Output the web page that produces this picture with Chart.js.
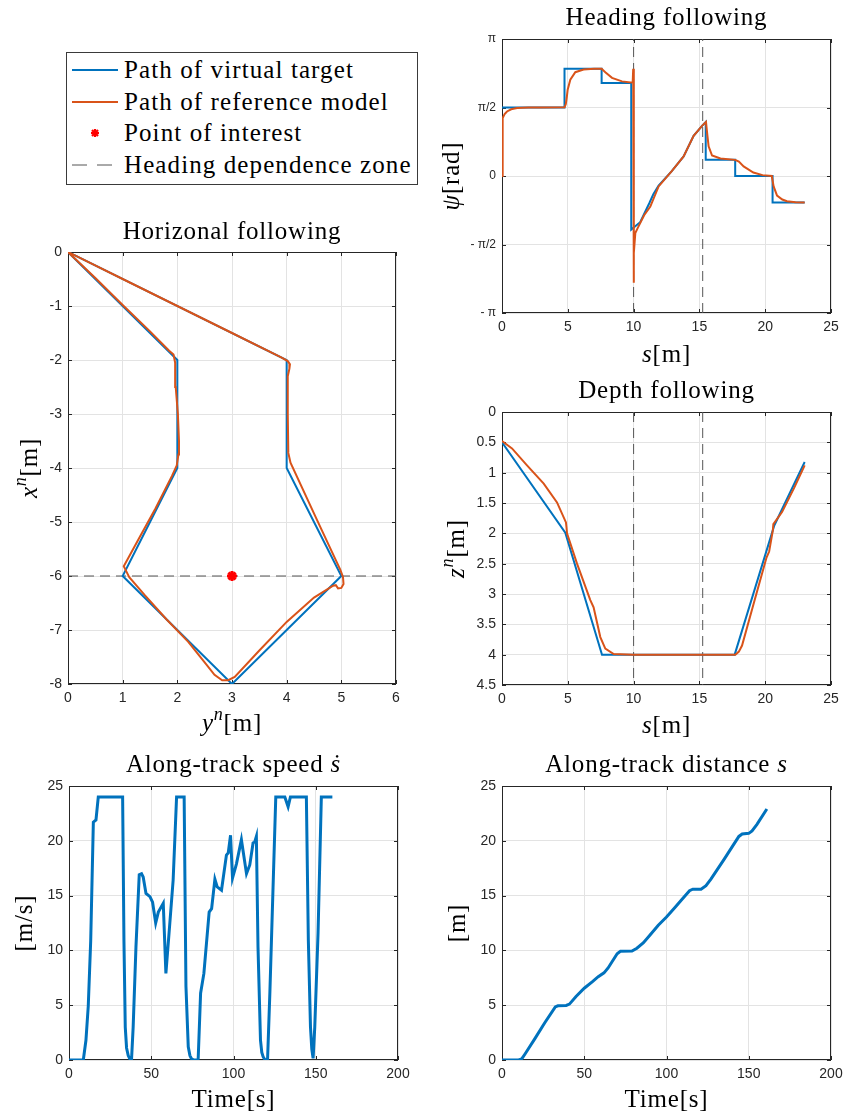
<!DOCTYPE html>
<html>
<head>
<meta charset="utf-8">
<script src="https://cdn.jsdelivr.net/npm/chart.js@4"></script>
<style>
  body { margin: 0; background: #fff; }
  #page { position: relative; width: 845px; height: 1119px; overflow: hidden; }
  canvas { position: absolute; }
  #legend {
    position: absolute; left: 66px; top: 52px; width: 350px; height: 131px;
    border: 1px solid #3a3a3a; background: #fff;
    font-family: "Liberation Serif", "DejaVu Serif", serif; font-size: 25px; letter-spacing: 1.1px; color: #000;
  }
  #legend .row { position: absolute; left: 57px; height: 32px; line-height: 32px; white-space: nowrap; }
  #legend .sw { position: absolute; left: 5px; width: 46px; height: 32px; }
</style>
</head>
<body>
<div id="page">
  <div id="legend">
    <svg class="sw" style="top:1px"><line x1="0" y1="16" x2="46" y2="16" stroke="#0072BD" stroke-width="2"/></svg>
    <div class="row" style="top:1px">Path of virtual target</div>
    <svg class="sw" style="top:33px"><line x1="0" y1="16" x2="46" y2="16" stroke="#D95319" stroke-width="2"/></svg>
    <div class="row" style="top:33px">Path of reference model</div>
    <svg class="sw" style="top:64px">
      <g stroke="#ff0000" stroke-width="2.2">
        <line x1="19" y1="16" x2="27" y2="16"/><line x1="23" y1="12" x2="23" y2="20"/>
        <line x1="20" y1="13" x2="26" y2="19"/><line x1="26" y1="13" x2="20" y2="19"/>
      </g>
    </svg>
    <div class="row" style="top:64px">Point of interest</div>
    <svg class="sw" style="top:96px"><line x1="0" y1="16" x2="42" y2="16" stroke="#555" stroke-width="1" stroke-dasharray="15,10"/></svg>
    <div class="row" style="top:96px">Heading dependence zone</div>
  </div>
  <canvas id="horizChart" width="420" height="530" style="left:0;top:210px"></canvas>
  <canvas id="headingChart" width="425" height="370" style="left:420px;top:0"></canvas>
  <canvas id="depthChart" width="425" height="370" style="left:420px;top:370px"></canvas>
  <canvas id="speedChart" width="420" height="379" style="left:0;top:740px"></canvas>
  <canvas id="distChart" width="425" height="379" style="left:420px;top:740px"></canvas>
</div>
<script>
// horizontal path (y^n, x^n)
const targetY = [0, 4, 4, 5, 3, 1, 2, 2, 0];
const targetX = [0, -2, -4, -6, -8, -6, -4, -2, 0];
const refY = [0, 1, 2, 3, 3.9, 4.02, 4.06, 4.05, 4.02, 4.02, 4.03, 4.07, 4.55, 4.98, 5.03, 5.04, 5.0, 4.94, 4.9, 4.85, 4.5, 4.0, 3.5, 3.05, 2.93, 2.82, 2.68, 2.5, 2.2, 1.8, 1.4, 1.12, 1.06, 1.02, 1.3, 1.6, 1.9, 1.99, 2.02, 2.03, 2.01, 1.97, 1.96, 1.93, 1.85, 1.5, 1.0, 0.5, 0];
const refX = [0, -0.5, -1.0, -1.5, -1.95, -2.02, -2.08, -2.16, -2.3, -3.0, -3.72, -3.9, -4.95, -5.88, -6.02, -6.15, -6.22, -6.23, -6.17, -6.18, -6.4, -6.85, -7.38, -7.87, -7.93, -7.93, -7.83, -7.6, -7.22, -6.8, -6.35, -6.02, -5.9, -5.82, -5.3, -4.75, -4.15, -3.95, -3.75, -3.5, -3.0, -2.5, -2.05, -1.9, -1.83, -1.47, -0.98, -0.48, 0];
const poiY = [3];
const poiX = [-6];
const zoneX = -6;
const zoneS = [10, 15.25];

// heading vs s
const headTargetS = [0, 4.75, 4.75, 7.57, 7.57, 9.82, 9.82, 10.5, 11.2, 11.5, 11.9, 12.9, 13.8, 14.56, 15.2, 15.48, 15.48, 17.72, 17.72, 20.56, 20.56, 23.0];
const headTargetPsi = [1.571, 1.571, 2.46, 2.46, 2.13, 2.13, -1.23, -1.06, -0.62, -0.42, -0.22, 0.11, 0.45, 0.92, 1.15, 1.24, 0.37, 0.37, 0, 0, -0.605, -0.605];
const headRefS = [0, 0.03, 0.07, 0.2, 0.38, 0.7, 1.14, 2, 3, 4.75, 4.85, 4.92, 4.99, 5.19, 5.57, 6.2, 7.0, 7.57, 7.85, 8.36, 9.12, 9.93, 9.97, 10.0, 10.03, 10.13, 10.3, 10.5, 10.8, 11.27, 11.9, 12.9, 13.8, 14.56, 15.2, 15.5, 15.6, 15.7, 15.96, 16.6, 17.72, 18.0, 18.36, 19.1, 19.8, 20.5, 20.64, 20.9, 21.3, 21.65, 22.3, 23.0];
const headRefPsi = [0, 0.9, 1.33, 1.42, 1.48, 1.53, 1.56, 1.57, 1.571, 1.575, 1.65, 1.8, 1.98, 2.21, 2.38, 2.44, 2.46, 2.46, 2.38, 2.25, 2.17, 2.14, 2.46, -2.45, -1.77, -1.31, -1.2, -1.08, -0.9, -0.7, -0.24, 0.11, 0.45, 0.92, 1.15, 1.24, 0.95, 0.68, 0.47, 0.4, 0.37, 0.33, 0.22, 0.08, 0.02, 0.0, -0.24, -0.45, -0.54, -0.58, -0.6, -0.605];
const psiTickValues = [-Math.PI, -Math.PI / 2, 0, Math.PI / 2, Math.PI];
const psiTickLabels = ["- π", "- π/2", "0", "π/2", "π"];

// depth vs s
const depthTargetS = [0, 4.81, 7.6, 17.68, 20.69, 23.0];
const depthTargetZ = [0.5, 1.99, 4.0, 4.0, 1.87, 0.825];
const depthRefS = [0, 0.76, 1.9, 3.17, 4.18, 4.86, 4.9, 4.94, 5.7, 6.71, 6.96, 7.47, 7.85, 8.49, 10, 17.73, 18.0, 18.24, 19.2, 20.1, 20.3, 20.58, 20.62, 21.28, 22.2, 23.0];
const depthRefZ = [0.48, 0.6, 0.88, 1.18, 1.49, 1.82, 1.9, 2.0, 2.5, 3.1, 3.22, 3.71, 3.9, 3.99, 4.0, 4.0, 3.95, 3.85, 3.1, 2.4, 2.3, 1.95, 1.85, 1.65, 1.25, 0.88];

// along-track speed vs time
const speedT = [0, 8.7, 10.3, 11.7, 13.2, 14.8, 16.4, 17.8, 32.6, 33.4, 34.2, 35, 36, 37, 38, 39, 40.7, 42.7, 44.1, 45.1, 46.8, 49.2, 50.8, 52.7, 54.3, 57.3, 58.9, 61.3, 63.3, 65.4, 70.0, 71.1, 72.5, 73.5, 74.5, 76, 78.5, 80.0, 82.0, 85.2, 86.7, 88.7, 90.1, 92.7, 95.7, 96.8, 98.2, 99.4, 101.8, 104.8, 107.9, 109.9, 111.9, 112.9, 113.9, 114.9, 116.4, 117.2, 118.0, 119, 120.7, 122.1, 125.7, 131.2, 133.2, 134.6, 144.3, 145.5, 146.8, 147.6, 148.4, 149.4, 151.4, 153.4, 160.1];
const speedV = [0, 0, 1.8, 4.9, 10.9, 21.7, 21.9, 24, 24, 10.9, 3.0, 1.1, 0.4, 0.1, 0, 3, 10.3, 16.9, 17.0, 16.7, 15.2, 14.9, 14.4, 12.5, 13.5, 14.3, 7.9, 12.5, 16.4, 24, 24, 6.7, 1.2, 0.4, 0.1, 0, 0, 6.1, 7.9, 13.5, 13.8, 16.5, 15.8, 15.5, 18.7, 18.9, 20.5, 16.6, 17.9, 20.1, 17.0, 17.8, 19.8, 19.9, 20.4, 10.3, 1.8, 0.7, 0.3, 0.05, 0, 6.1, 24, 24, 23.1, 24, 24, 10.9, 3.0, 1.0, 0.15, 3.0, 11.6, 24, 24];

// along-track distance vs time
const distT = [0, 10.1, 12, 14, 20, 26, 32.4, 34, 39, 41, 45, 50, 55, 58.5, 62, 64.5, 70, 72, 79, 82, 86, 90, 95, 100, 105, 110, 114, 116, 121, 124, 127, 135, 144, 146, 150, 152, 155, 161];
const distS = [0, 0, 0.1, 0.55, 1.95, 3.4, 4.85, 4.95, 4.98, 5.1, 5.8, 6.55, 7.15, 7.6, 7.95, 8.4, 9.7, 9.92, 9.95, 10.2, 10.7, 11.4, 12.3, 13.05, 13.9, 14.75, 15.45, 15.58, 15.58, 15.9, 16.5, 18.3, 20.4, 20.62, 20.68, 20.9, 21.5, 22.9];

const BLUE = "#0072BD";
const ORANGE = "#D95319";
const SERIF = '"Liberation Serif", "DejaVu Serif", serif';
Chart.defaults.font.family = '"Liberation Sans", Arial, sans-serif';
Chart.defaults.font.size = 14;
Chart.defaults.color = "#262626";

function pts(xs, ys) {
  return xs.map((x, i) => ({ x: x, y: ys[i] }));
}

function line(data, color, width, dash) {
  return {
    data: data, showLine: true, borderColor: color, borderWidth: width,
    borderDash: dash || [], pointRadius: 0, tension: 0, fill: false,
  };
}

// box with inward ticks on all four sides, like matlab axes
const matlabBox = {
  id: "matlabBox",
  beforeDatasetsDraw(chart) {
    const { ctx, chartArea: a, scales } = chart;
    const len = 4;
    ctx.save();
    ctx.strokeStyle = "#262626";
    ctx.lineWidth = 1;
    ctx.beginPath();
    scales.x.ticks.forEach((t) => {
      const px = Math.round(scales.x.getPixelForValue(t.value)) + 0.5;
      ctx.moveTo(px, a.bottom); ctx.lineTo(px, a.bottom - len);
      ctx.moveTo(px, a.top); ctx.lineTo(px, a.top + len);
    });
    scales.y.ticks.forEach((t) => {
      const py = Math.round(scales.y.getPixelForValue(t.value)) + 0.5;
      ctx.moveTo(a.left, py); ctx.lineTo(a.left + len, py);
      ctx.moveTo(a.right, py); ctx.lineTo(a.right - len, py);
    });
    ctx.stroke();
    ctx.strokeRect(Math.round(a.left) + 0.5, Math.round(a.top) + 0.5, Math.round(a.width) - 1, Math.round(a.height) - 1);
    ctx.restore();
  },
};

// text made of parts: [text, "i" italic / "s" superscript]
function drawRich(ctx, parts, x, y, size, rotate) {
  const fontOf = (p) => (p[1] && p[1].includes("i") ? "italic " : "") +
    (p[1] && p[1].includes("s") ? Math.round(size * 0.7) : size) + "px " + SERIF;
  ctx.save();
  ctx.translate(x, y);
  if (rotate) ctx.rotate(-Math.PI / 2);
  ctx.textBaseline = "middle";
  ctx.textAlign = "left";
  ctx.fillStyle = "#000";
  ctx.letterSpacing = "0.8px";
  let w = 0;
  parts.forEach((p) => { ctx.font = fontOf(p); w += ctx.measureText(p[0]).width; });
  let cx = -w / 2;
  parts.forEach((p) => {
    ctx.font = fontOf(p);
    const sup = p[1] && p[1].includes("s");
    ctx.fillText(p[0], cx, sup ? -size * 0.33 : 0);
    cx += ctx.measureText(p[0]).width;
  });
  ctx.restore();
}

function textPlugin(t) {
  return {
    id: "texts",
    afterDraw(chart) {
      const { ctx, chartArea: a } = chart;
      const cx = (a.left + a.right) / 2;
      const cy = (a.top + a.bottom) / 2;
      drawRich(ctx, t.title, cx, a.top - t.titleGap, 25, false);
      drawRich(ctx, t.xlabel, cx, a.bottom + t.xGap, 25, false);
      drawRich(ctx, t.ylabel, a.left - t.yGap, cy, 25, true);
    },
  };
}

function axis(a, dir) {
  const ax = {
    type: "linear", min: a.min, max: a.max, reverse: !!a.reverse,
    ticks: {
      stepSize: a.step, padding: 6, autoSkip: false, maxRotation: 0, font: { size: a.fontSize || 14 },
      callback: (v) => String(Math.round(v * 100) / 100),
    },
    grid: { color: "#e3e3e3", drawTicks: false },
    border: { display: false },
    afterFit: (s) => {
      if (dir === "x") s.height = a.size; else s.width = a.size;
      s.paddingLeft = 0; s.paddingRight = 0; s.paddingTop = 0; s.paddingBottom = 0;
    },
  };
  if (a.values) {
    ax.afterBuildTicks = (s) => { s.ticks = a.values.map((v) => ({ value: v })); };
    ax.ticks.callback = (v, i) => a.labels[i];
  }
  return ax;
}

function makeChart(id, o) {
  return new Chart(document.getElementById(id), {
    type: "scatter",
    data: { datasets: o.datasets },
    options: {
      animation: false, responsive: false, devicePixelRatio: 1,
      layout: { padding: { top: o.padTop, right: o.padRight, left: 0, bottom: 0 } },
      plugins: { legend: { display: false }, tooltip: { enabled: false } },
      scales: { x: axis(o.x, "x"), y: axis(o.y, "y") },
    },
    plugins: [matlabBox, textPlugin(o.texts)],
  });
}

makeChart("horizChart", {
  padTop: 42, padRight: 24,
  x: { min: 0, max: 6, step: 1, size: 56 },
  y: { min: -8, max: 0, step: 1, size: 68 },
  datasets: [
    { data: pts(poiY, poiX), pointStyle: "star", pointRadius: 5, borderColor: "#ff0000", borderWidth: 3, showLine: false },
    line(pts(refY, refX), ORANGE, 2),
    line(pts(targetY, targetX), BLUE, 2),
    line(pts([0, 6], [zoneX, zoneX]), "#555", 1, [10, 6]),
  ],
  texts: {
    title: [["Horizonal following"]], titleGap: 20,
    xlabel: [["y", "i"], ["n", "is"], ["[m]"]], xGap: 40,
    ylabel: [["x", "i"], ["n", "is"], ["[m]"]], yGap: 38,
  },
});

makeChart("headingChart", {
  padTop: 39, padRight: 14,
  x: { min: 0, max: 25, step: 5, size: 57 },
  y: { min: -Math.PI, max: Math.PI, size: 82, values: psiTickValues, labels: psiTickLabels, fontSize: 12 },
  datasets: [
    line(pts(headRefS, headRefPsi), ORANGE, 2),
    line(pts(headTargetS, headTargetPsi), BLUE, 2),
    line(pts([zoneS[0], zoneS[0]], [-Math.PI, Math.PI]), "#555", 1, [10, 6]),
    line(pts([zoneS[1], zoneS[1]], [-Math.PI, Math.PI]), "#555", 1, [10, 6]),
  ],
  texts: {
    title: [["Heading following"]], titleGap: 21,
    xlabel: [["s", "i"], ["[m]"]], xGap: 42,
    ylabel: [["ψ", "i"], ["[rad]"]], yGap: 50,
  },
});

makeChart("depthChart", {
  padTop: 42, padRight: 14,
  x: { min: 0, max: 25, step: 5, size: 55 },
  y: { min: 0, max: 4.5, step: 0.5, size: 82, reverse: true },
  datasets: [
    line(pts(depthRefS, depthRefZ), ORANGE, 2),
    line(pts(depthTargetS, depthTargetZ), BLUE, 2),
    line(pts([zoneS[0], zoneS[0]], [0, 4.5]), "#555", 1, [10, 6]),
    line(pts([zoneS[1], zoneS[1]], [0, 4.5]), "#555", 1, [10, 6]),
  ],
  texts: {
    title: [["Depth following"]], titleGap: 21,
    xlabel: [["s", "i"], ["[m]"]], xGap: 41,
    ylabel: [["z", "i"], ["n", "is"], ["[m]"]], yGap: 45,
  },
});

makeChart("speedChart", {
  padTop: 46, padRight: 22,
  x: { min: 0, max: 200, step: 50, size: 59 },
  y: { min: 0, max: 25, step: 5, size: 69 },
  datasets: [line(pts(speedT, speedV), BLUE, 3)],
  texts: {
    title: [["Along-track speed "], ["ṡ", "i"]], titleGap: 21,
    xlabel: [["Time[s]"]], xGap: 40,
    ylabel: [["[m/s]"]], yGap: 44,
  },
});

makeChart("distChart", {
  padTop: 46, padRight: 14,
  x: { min: 0, max: 200, step: 50, size: 59 },
  y: { min: 0, max: 25, step: 5, size: 82 },
  datasets: [line(pts(distT, distS), BLUE, 3)],
  texts: {
    title: [["Along-track distance "], ["s", "i"]], titleGap: 21,
    xlabel: [["Time[s]"]], xGap: 40,
    ylabel: [["[m]"]], yGap: 44,
  },
});
</script>
</body>
</html>
